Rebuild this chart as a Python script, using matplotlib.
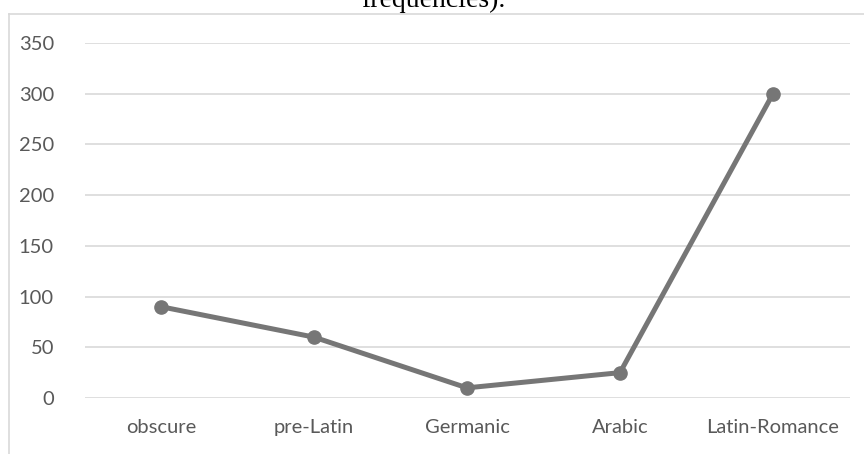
import matplotlib
matplotlib.use('Agg')
import matplotlib.pyplot as plt
from matplotlib.lines import Line2D

# data
origins = ['obscure', 'pre-Latin', 'Germanic', 'Arabic', 'Latin-Romance']
counts = [90, 60, 10, 25, 300]
yticks = [0, 50, 100, 150, 200, 250, 300, 350]

grey_txt = '#595959'
grey_line = '#767676'

plt.rcParams['font.family'] = ['Lato', 'DejaVu Sans']

fig = plt.figure(figsize=(8.64, 4.54), dpi=100)
ax = fig.add_axes([84.5 / 864, 1 - 398 / 454, (849.5 - 84.5) / 864, (398 - 43) / 454])

ax.plot(range(len(origins)), counts, color=grey_line, lw=3.6,
        marker='o', markersize=9.5, solid_capstyle='round', zorder=3)

ax.set_xlim(-0.5, len(origins) - 0.5)
ax.set_ylim(0, 350)
ax.set_yticks(yticks)
ax.set_xticks(range(len(origins)))
ax.set_xticklabels(origins)
ax.grid(axis='y', color='#d9d9d9', lw=1.2)
ax.set_axisbelow(True)
for s in ax.spines.values():
    s.set_visible(False)
ax.tick_params(length=0, colors=grey_txt, labelsize=14.5)
ax.tick_params(axis='y', pad=22)
ax.tick_params(axis='x', pad=15)

# chart frame edges visible in the crop (top and left)
fig.add_artist(Line2D([9 / 864, 9 / 864], [0, 1 - 14 / 454], color='#d9d9d9', lw=1.2,
                      transform=fig.transFigure))
fig.add_artist(Line2D([9 / 864, 1], [1 - 14 / 454, 1 - 14 / 454], color='#d9d9d9', lw=1.2,
                      transform=fig.transFigure))

# clipped caption from the document above the chart
fig.text(433 / 864, 1 - 7 / 454, 'frequencies).', ha='center', va='baseline',
         fontsize=20, family=['Liberation Serif', 'DejaVu Serif'], color='black')

fig.savefig('out.png', dpi=100)
